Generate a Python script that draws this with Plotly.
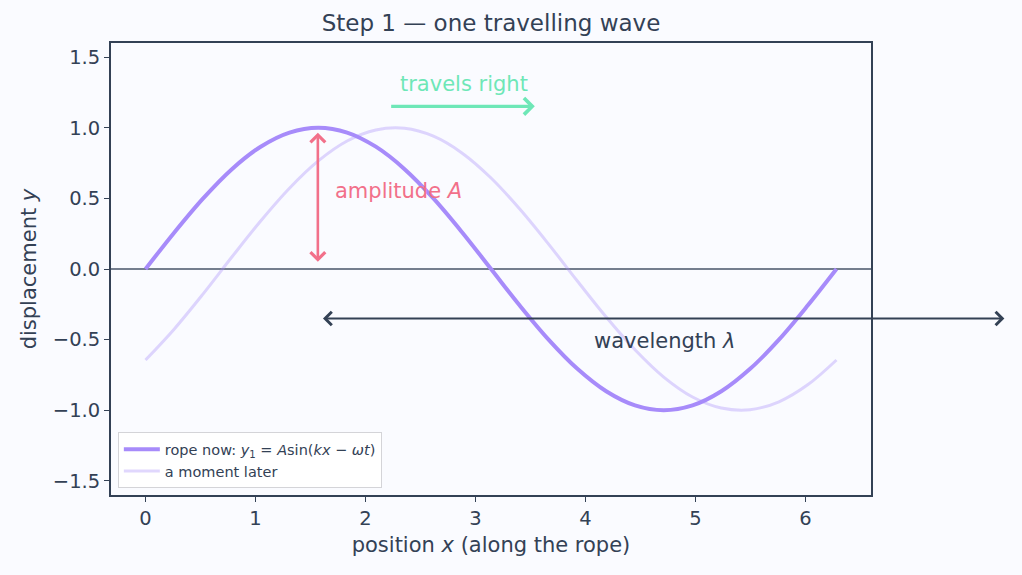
import plotly.graph_objects as go

# sampled positions along the rope (0 .. 2π in steps of π/12)
x_pos = [0.0, 0.262, 0.524, 0.785, 1.047, 1.309, 1.571, 1.833, 2.094, 2.356, 2.618, 2.880,
         3.142, 3.403, 3.665, 3.927, 4.189, 4.451, 4.712, 4.974, 5.236, 5.498, 5.760, 6.021, 6.283]
# rope now
y_now = [0.0, 0.259, 0.5, 0.707, 0.866, 0.966, 1.0, 0.966, 0.866, 0.707, 0.5, 0.259,
         0.0, -0.259, -0.5, -0.707, -0.866, -0.966, -1.0, -0.966, -0.866, -0.707, -0.5, -0.259, 0.0]
# a moment later
y_later = [-0.644, -0.424, -0.176, 0.085, 0.340, 0.572, 0.765, 0.906, 0.984, 0.996, 0.940, 0.820,
           0.644, 0.424, 0.176, -0.085, -0.340, -0.572, -0.765, -0.906, -0.984, -0.996, -0.940, -0.820, -0.644]

x_ticks = [0, 1, 2, 3, 4, 5, 6]
y_ticks = [-1.5, -1.0, -0.5, 0.0, 0.5, 1.0, 1.5]
y_tick_text = ["\u22121.5", "\u22121.0", "\u22120.5", "0.0", "0.5", "1.0", "1.5"]

amp_x, amp_bot, amp_top = 1.567, 0.04, 0.965
lam_start, lam_end, lam_y = 1.60, 7.81, -0.35
trav_start, trav_end, trav_y = 2.22, 3.54, 1.152

TXT = "#334155"
PURPLE = "#a78bfa"
RED = "#f2708a"
GREEN = "#6ee7b7"
FONT = "DejaVu Sans"

fig = go.Figure()
fig.add_trace(go.Scatter(x=x_pos, y=y_now, mode="lines", line=dict(color=PURPLE, width=4, shape="spline"),
                         name="rope now: <i>y</i><sub>1</sub> = <i>A</i>sin(<i>kx</i> \u2212 <i>\u03c9t</i>)"))
fig.add_trace(go.Scatter(x=x_pos, y=y_later, mode="lines",
                         line=dict(color="rgba(167,139,250,0.35)", width=3, shape="spline"),
                         name="a moment later"))

fig.add_shape(type="line", xref="paper", x0=0, x1=1, y0=0, y1=0, yref="y",
              line=dict(color="#475569", width=1.3), layer="below")

ann = []
# amplitude arrow (double)
ann.append(dict(x=amp_x, y=amp_top, ax=amp_x, ay=amp_bot, xref="x", yref="y", axref="x", ayref="y",
                showarrow=True, arrowhead=4, startarrowhead=4, arrowside="end+start",
                arrowsize=1.1, startarrowsize=1.1, arrowwidth=2.6, arrowcolor=RED, text=""))
ann.append(dict(x=1.703, y=0.55, xref="x", yref="y", text="amplitude <i>A</i>", showarrow=False,
                xanchor="left", font=dict(color=RED, size=21, family=FONT)))
# travels right arrow
ann.append(dict(x=trav_end, y=trav_y, ax=trav_start, ay=trav_y, xref="x", yref="y", axref="x", ayref="y",
                showarrow=True, arrowhead=4, arrowsize=1.0, arrowwidth=3.2, arrowcolor=GREEN, text=""))
ann.append(dict(x=2.896, y=1.31, xref="x", yref="y", text="travels right", showarrow=False,
                font=dict(color=GREEN, size=21, family=FONT)))
# wavelength arrow
ann.append(dict(x=lam_end, y=lam_y, ax=lam_start, ay=lam_y, xref="x", yref="y", axref="x", ayref="y",
                showarrow=True, arrowhead=4, startarrowhead=4, arrowside="end+start",
                arrowsize=1.3, startarrowsize=1.3, arrowwidth=2, arrowcolor=TXT, text=""))
ann.append(dict(x=4.718, y=-0.507, xref="x", yref="y", text="wavelength <i>\u03bb</i>", showarrow=False,
                font=dict(color=TXT, size=21, family=FONT)))

fig.update_layout(
    width=1022, height=575,
    paper_bgcolor="#fafbff", plot_bgcolor="#fafbff",
    margin=dict(l=111, r=151, t=43, b=80),
    font=dict(family=FONT, color=TXT, size=19.5),
    title=dict(text="Step 1 \u2014 one travelling wave", x=0.5, xanchor="center", xref="paper",
               y=0.96, yanchor="middle", font=dict(size=23, color=TXT)),
    annotations=ann,
    showlegend=True,
    legend=dict(x=0.009, y=0.015, xanchor="left", yanchor="bottom", bgcolor="rgba(255,255,255,0.85)",
                bordercolor="#d4d4d8", borderwidth=1, font=dict(size=14.5, color=TXT), itemwidth=36,
                tracegroupgap=0),
)
fig.update_xaxes(range=[-0.314, 6.597], tickvals=x_ticks, ticks="outside", ticklen=5, tickcolor=TXT,
                 tickwidth=1.3, showgrid=False, zeroline=False, showline=True, linecolor=TXT, linewidth=1.8,
                 mirror=True,
                 title=dict(text="position <i>x</i> (along the rope)", font=dict(size=21), standoff=8),
                 tickfont=dict(size=19.5))
fig.update_yaxes(range=[-1.6, 1.6], tickvals=y_ticks, ticktext=y_tick_text, ticks="outside", ticklen=5,
                 tickcolor=TXT, tickwidth=1.3, showgrid=False, zeroline=False, showline=True, linecolor=TXT,
                 linewidth=1.8, mirror=True,
                 title=dict(text="displacement <i>y</i>", font=dict(size=21), standoff=10),
                 tickfont=dict(size=19.5))

fig.write_html("out.html")
